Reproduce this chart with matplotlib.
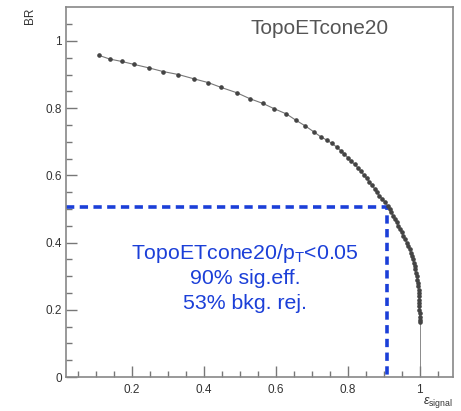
import matplotlib
matplotlib.use("Agg")
import matplotlib.pyplot as plt

plt.rcParams['font.family'] = ['Liberation Sans', 'DejaVu Sans']
plt.rcParams['mathtext.fontset'] = 'custom'
plt.rcParams['mathtext.rm'] = 'Liberation Sans'
plt.rcParams['mathtext.it'] = 'Liberation Sans:italic'

# ROC curve points (signal efficiency, background rejection BR)
eff = [0.108, 0.138, 0.171, 0.206, 0.246, 0.286, 0.329, 0.373, 0.412, 0.447,
       0.491, 0.528, 0.564, 0.596, 0.629, 0.656, 0.682, 0.705, 0.726, 0.742,
       0.756, 0.770, 0.781, 0.791, 0.800, 0.809, 0.819, 0.828, 0.836, 0.845,
       0.853, 0.860, 0.867, 0.875, 0.881, 0.888, 0.896, 0.904, 0.911, 0.917,
       0.921, 0.926, 0.931, 0.936, 0.940, 0.945, 0.950, 0.955, 0.959, 0.964,
       0.968, 0.972, 0.975, 0.978, 0.981, 0.984, 0.986, 0.988, 0.990, 0.992,
       0.994, 0.995, 0.996, 0.997, 0.998, 0.9985, 0.999, 0.9993, 0.9995, 0.9997,
       0.9998, 0.9999, 1.0, 1.0]
br = [0.957, 0.946, 0.939, 0.930, 0.920, 0.909, 0.900, 0.887, 0.876, 0.862,
      0.846, 0.828, 0.814, 0.798, 0.783, 0.764, 0.747, 0.730, 0.714, 0.705,
      0.695, 0.684, 0.673, 0.663, 0.653, 0.643, 0.633, 0.623, 0.613, 0.601,
      0.591, 0.581, 0.571, 0.560, 0.550, 0.540, 0.530, 0.520, 0.510, 0.500,
      0.490, 0.480, 0.470, 0.460, 0.450, 0.440, 0.430, 0.420, 0.410, 0.400,
      0.390, 0.380, 0.370, 0.360, 0.350, 0.340, 0.330, 0.320, 0.310, 0.300,
      0.290, 0.280, 0.270, 0.260, 0.250, 0.240, 0.230, 0.220, 0.210, 0.200,
      0.190, 0.180, 0.170, 0.165]
# thin tail down to zero
tail_eff = [1.0, 1.0]
tail_br = [0.165, 0.0]

# working point
cut_eff = 0.91
cut_br = 0.506

xlim = (0.016, 1.093)
ylim = (0.0, 1.101)

fig = plt.figure(figsize=(4.61, 4.11), dpi=100)
ax = fig.add_axes([66/461, 34/411, (453-66)/461, (377-7)/411])

blue = '#1b3fd8'
ax.plot(tail_eff, tail_br, color='#777777', lw=0.6)
ax.plot(eff, br, color='#777777', lw=0.8, marker='o', ms=2.3,
        mfc='#444444', mec='#444444', zorder=3)

ax.plot([xlim[0], cut_eff, cut_eff], [cut_br, cut_br, 0.0], color=blue,
        lw=2.6, dashes=(2.3, 1.5), solid_capstyle='butt', zorder=2)

ax.set_xlim(*xlim)
ax.set_ylim(*ylim)
ax.set_xticks([0.2, 0.4, 0.6, 0.8, 1.0])
ax.set_xticklabels(['0.2', '0.4', '0.6', '0.8', '1'])
ax.set_yticks([0, 0.2, 0.4, 0.6, 0.8, 1.0])
ax.set_yticklabels(['0', '0.2', '0.4', '0.6', '0.8', '1'])
ax.set_xticks([i * 0.05 for i in range(1, 22)], minor=True)
ax.set_yticks([i * 0.05 for i in range(1, 22)], minor=True)
ax.tick_params(which='both', direction='in', color='#777777', width=1.0,
               labelsize=8.5, labelcolor='#333333', top=False, right=False)
ax.tick_params(which='major', length=8)
ax.tick_params(which='minor', length=4)
ax.tick_params(axis='x', pad=5)
ax.tick_params(axis='y', pad=3)
for s in ax.spines.values():
    s.set_color('#888888')
    s.set_linewidth(1.2)

fig.text(250/461, 1 - 28/411, 'TopoETcone20',
         fontsize=15, color='#555555', ha='left', va='center')

fig.text(245/461, 1 - 253/411, 'TopoETcone20/p$_{\\mathrm{T}}$<0.05',
         fontsize=15.3, color=blue, ha='center', va='center')
fig.text(245/461, 1 - 278/411, '90% sig.eff.',
         fontsize=15.3, color=blue, ha='center', va='center')
fig.text(245/461, 1 - 303/411, '53% bkg. rej.',
         fontsize=15.3, color=blue, ha='center', va='center')

fig.text(30/461, 1 - 8/411, 'BR', rotation=90, fontsize=8.5, color='#333333',
         ha='center', va='top')
fig.text(438/461, 1 - 402/411, '$\\varepsilon_{\\mathrm{signal}}$',
         fontsize=9, color='#333333', ha='center', va='center')

fig.savefig('out.png', dpi=100)
